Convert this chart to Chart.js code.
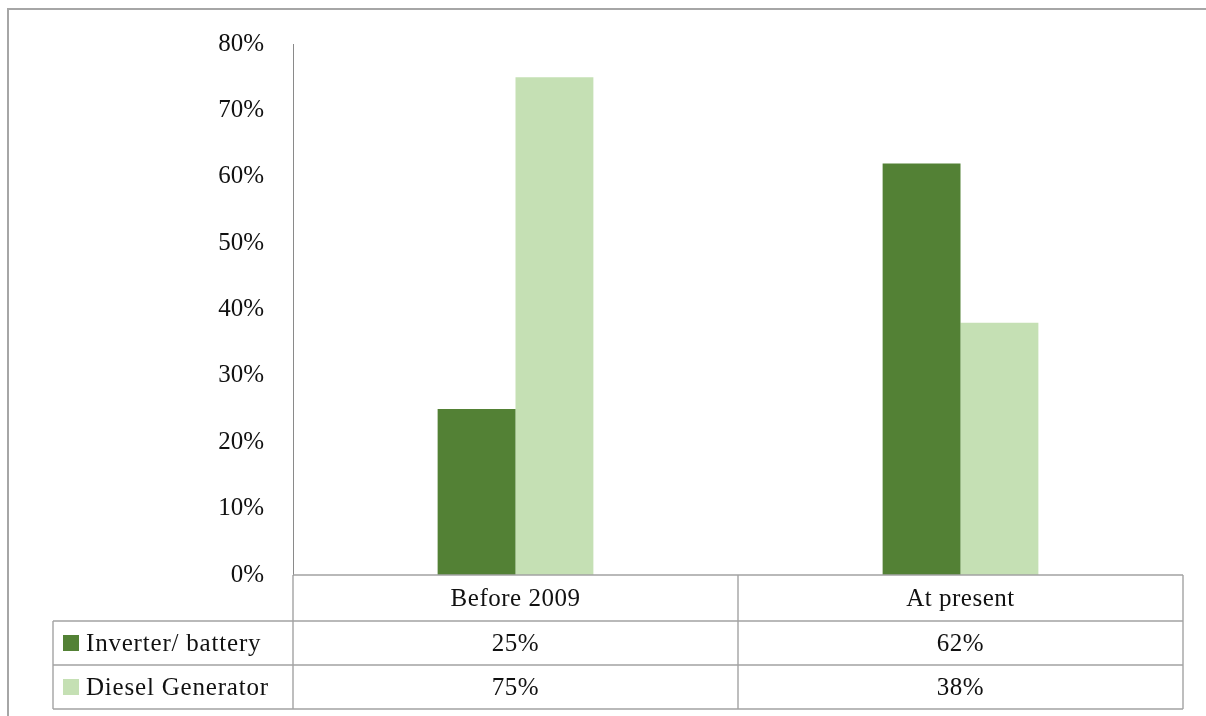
<!DOCTYPE html>
<html>
<head>
<meta charset="utf-8">
<title>Inverter/battery vs diesel generator</title>
<script src="https://cdn.jsdelivr.net/npm/chart.js@4/dist/chart.umd.min.js"></script>
<style>
  html, body { margin: 0; padding: 0; background: #fff; }
  #wrap { width: 1206px; height: 716px; position: relative; }
</style>
</head>
<body>
<div id="wrap"><canvas id="backupChart" width="1206" height="716"></canvas></div>
<script>
const categories     = ['Before 2009', 'At present'];
const seriesNames    = ['Inverter/ battery', 'Diesel Generator'];
const inverterValues = [25, 62];
const dieselValues   = [75, 38];
const seriesColors   = ['#538135', '#C5E0B4'];

const FONT      = '"Liberation Serif", "Times New Roman", serif';
const FONT_SIZE = 25;
const TEXT      = '#111';
const RULE      = '#a3a3a3';

// header row + one row per series, drawn under the plot area
const headerH = 46;
const rowH    = 44;
const tableLeft = 53;

const dataTable = {
  id: 'dataTable',
  afterDraw(chart) {
    const { ctx, chartArea: ca, scales: { x } } = chart;
    const catW = (ca.right - ca.left) / categories.length;
    const top = ca.bottom;
    const rowTops = [top + headerH, top + headerH + rowH];
    const bottom = top + headerH + rowH * 2;

    ctx.save();

    // outer frame
    ctx.strokeStyle = '#a6a6a6';
    ctx.lineWidth = 2;
    ctx.beginPath();
    ctx.moveTo(8, 716);
    ctx.lineTo(8, 9);
    ctx.lineTo(1206, 9);
    ctx.stroke();

    // grid lines of the table
    ctx.strokeStyle = RULE;
    ctx.lineWidth = 1.4;
    ctx.beginPath();
    ctx.moveTo(ca.left, top);
    ctx.lineTo(ca.right, top);
    rowTops.concat([bottom]).forEach(y => {
      ctx.moveTo(tableLeft, y);
      ctx.lineTo(ca.right, y);
    });
    ctx.moveTo(tableLeft, rowTops[0]);
    ctx.lineTo(tableLeft, bottom);
    for (let i = 0; i <= categories.length; i++) {
      const xx = ca.left + catW * i;
      ctx.moveTo(xx, top);
      ctx.lineTo(xx, bottom);
    }
    ctx.stroke();

    ctx.font = `${FONT_SIZE}px ${FONT}`;
    ctx.letterSpacing = '0.5px';
    ctx.fillStyle = TEXT;
    ctx.textBaseline = 'middle';
    ctx.textAlign = 'center';

    // category headers
    categories.forEach((c, i) => {
      ctx.fillText(c, x.getPixelForValue(i), top + headerH / 2 + 1);
    });

    // series rows: legend key, name, values
    chart.data.datasets.forEach((ds, r) => {
      const cy = rowTops[r] + rowH / 2;
      ctx.fillStyle = ds.backgroundColor;
      ctx.fillRect(tableLeft + 10, cy - 8, 16, 16);
      ctx.fillStyle = TEXT;
      ctx.textAlign = 'left';
      ctx.letterSpacing = '0.8px';
      ctx.fillText(ds.label, tableLeft + 33, cy + 1);
      ctx.letterSpacing = '0.5px';
      ctx.textAlign = 'center';
      ds.data.forEach((v, i) => {
        ctx.fillText(v + '%', x.getPixelForValue(i), cy + 1);
      });
    });

    ctx.restore();
  }
};

new Chart(document.getElementById('backupChart'), {
  type: 'bar',
  data: {
    labels: categories,
    datasets: [
      { label: seriesNames[0], data: inverterValues, backgroundColor: seriesColors[0] },
      { label: seriesNames[1], data: dieselValues,   backgroundColor: seriesColors[1] }
    ]
  },
  options: {
    responsive: false,
    animation: false,
    devicePixelRatio: 1,
    categoryPercentage: 0.35,
    barPercentage: 1.0,
    layout: { padding: { top: 39, right: 23, bottom: 141, left: 0 } },
    plugins: {
      legend: { display: false },
      tooltip: { enabled: false }
    },
    scales: {
      x: { display: false },
      y: {
        min: 0,
        max: 80,
        ticks: {
          stepSize: 10,
          padding: 29,
          color: TEXT,
          font: { family: FONT, size: FONT_SIZE },
          callback: v => v + '%'
        },
        grid: { display: false, drawTicks: false },
        border: { display: true, color: '#8a8a8a', width: 1 },
        afterFit(scale) { scale.width = 293; }
      }
    }
  },
  plugins: [dataTable]
});
</script>
</body>
</html>
